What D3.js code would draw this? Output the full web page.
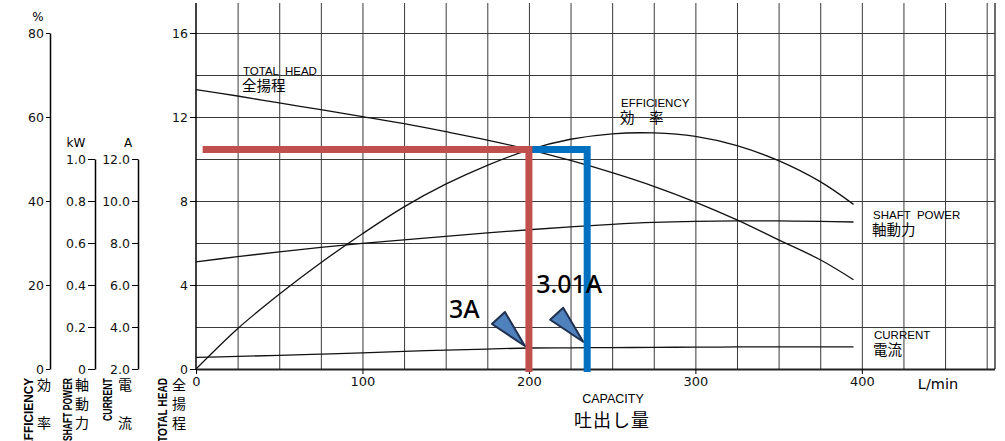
<!DOCTYPE html>
<html>
<head>
<meta charset="utf-8">
<script src="https://cdn.jsdelivr.net/npm/d3@7"></script>
<style>
body { margin: 0; background: #fff; }
svg { display: block; font-family: "DejaVu Sans", sans-serif; }
.cap { font-family: "Liberation Sans", Arial, sans-serif; font-size: 11.5px; white-space: pre; }
.jp { font-family: "Noto Sans CJK JP", sans-serif; }
.tick text { font-family: "DejaVu Sans", sans-serif; font-size: 12.5px; fill: #111; }
</style>
</head>
<body>
<div id="chart"></div>
<script>
// capacity points, L/min
var flowQ = [0, 25, 50, 75, 100, 125, 150, 175, 200, 225, 250, 275, 300, 325, 350, 375, 395];
// total head, m
var totalHead = [13.3, 13.0, 12.67, 12.35, 12.02, 11.68, 11.3, 10.9, 10.45, 9.93, 9.35, 8.7, 7.95, 7.1, 6.15, 5.2, 4.25];
// efficiency, %
var efficiency = [0, 9.6, 17.8, 25.3, 32.2, 38.6, 44.0, 48.5, 52.2, 54.7, 56.0, 56.2, 55.4, 53.2, 49.6, 44.6, 39.2];
// shaft power, kW
var shaftPower = [0.51, 0.535, 0.558, 0.579, 0.598, 0.615, 0.632, 0.648, 0.663, 0.677, 0.689, 0.698, 0.703, 0.705, 0.705, 0.703, 0.70];
// current, A
var current = [2.55, 2.6, 2.65, 2.71, 2.77, 2.84, 2.9, 2.95, 3.0, 3.01, 3.02, 3.03, 3.04, 3.05, 3.05, 3.05, 3.05];

var xTicks = [0, 100, 200, 300, 400];
var headTicks = [0, 4, 8, 12, 16];
var effTicks = [0, 20, 40, 60, 80];
var kwTicks = [0, 0.2, 0.4, 0.6, 0.8, 1.0];
var ampTicks = [2, 4, 6, 8, 10, 12];

// duty point markings
var dutyFlow = [200, 235];
var dutyHead = [10.45, 10.45];
var dutyAmps = [3.0, 3.01];
var dutyLabel = ["3A", "3.01A"];

var W = 1005, H = 441;
var svg = d3.select("#chart").append("svg").attr("width", W).attr("height", H);

var x = d3.scaleLinear().domain([0, 480]).range([196, 995]);
var yHead = d3.scaleLinear().domain([0, 16]).range([369, 33]);
var yEff = d3.scaleLinear().domain([0, 80]).range([369, 33]);
var yKw = d3.scaleLinear().domain([0, 1]).range([369, yHead(10)]);
var yAmp = d3.scaleLinear().domain([2, 12]).range([369, yHead(10)]);
var plotTop = 3;

// grid
var grid = svg.append("g").attr("stroke", "#3a3a3a").attr("stroke-width", 1);
d3.range(25, 480, 25).forEach(function(q) {
	grid.append("line").attr("x1", x(q) + 0.5).attr("x2", x(q) + 0.5)
		.attr("y1", plotTop).attr("y2", 369);
});
grid.append("line").attr("x1", x(480)).attr("x2", x(480)).attr("y1", plotTop).attr("y2", 369)
	.attr("stroke-width", 1.5);
d3.range(2, 17, 2).forEach(function(h) {
	grid.append("line").attr("x1", x(0)).attr("x2", x(480))
		.attr("y1", yHead(h) + 0.5).attr("y2", yHead(h) + 0.5);
});

// main axes
svg.append("line").attr("x1", x(0)).attr("x2", x(0)).attr("y1", plotTop).attr("y2", 370)
	.attr("stroke", "#000").attr("stroke-width", 1.5);
svg.append("line").attr("x1", x(0)).attr("x2", x(480)).attr("y1", 369.5).attr("y2", 369.5)
	.attr("stroke", "#222").attr("stroke-width", 2);

var headAxis = svg.append("g").attr("transform", "translate(" + x(0) + ",0)")
	.call(d3.axisLeft(yHead).tickValues(headTicks).tickSize(6).tickPadding(2).tickSizeOuter(0));
headAxis.select(".domain").remove();

var xAxis = svg.append("g").attr("transform", "translate(0,369)")
	.call(d3.axisBottom(x).tickValues(xTicks).tickSize(5).tickPadding(3));
xAxis.select(".domain").remove();
xAxis.selectAll("text").style("font-size", "13px");

// left scales
function sideAxis(scale, xPos, ticks, fmt, size) {
	var g = svg.append("g").attr("transform", "translate(" + xPos + ",0)")
		.call(d3.axisLeft(scale).tickValues(ticks).tickSize(size).tickPadding(2).tickSizeOuter(0).tickFormat(fmt));
	g.select(".domain").attr("stroke-width", 1.5);
	return g;
}
sideAxis(yEff, 50, effTicks, d3.format("d"), 4);
sideAxis(yKw, 95, kwTicks, function(d) { return d === 0 ? "0" : d3.format(".1f")(d); }, 7);
sideAxis(yAmp, 138, ampTicks, d3.format(".1f"), 6);

svg.append("text").attr("x", 38).attr("y", 21).attr("text-anchor", "middle").style("font-size", "12px").text("%");
svg.append("text").attr("x", 76).attr("y", 147).attr("text-anchor", "middle").style("font-size", "12px").text("kW");
svg.append("text").attr("x", 128).attr("y", 147).attr("text-anchor", "middle").style("font-size", "12px").text("A");

// vertical side labels
var sideLabels = [
	{ en: "EFFICIENCY", jp: "効　率", xe: 33, xj: 44, len: 70 },
	{ en: "SHAFT POWER", jp: "軸動力", xe: 72, xj: 82, len: 63 },
	{ en: "CURRENT", jp: "電　流", xe: 112, xj: 125, len: 43 },
	{ en: "TOTAL HEAD", jp: "全揚程", xe: 167, xj: 179, len: 64 }
];
sideLabels.forEach(function(s) {
	svg.append("text")
		.attr("transform", "translate(" + s.xe + ",378) rotate(-90)")
		.attr("text-anchor", "end")
		.attr("textLength", s.len).attr("lengthAdjust", "spacingAndGlyphs")
		.style("font-family", "'Liberation Sans', Arial, sans-serif")
		.style("font-size", "12px").style("font-weight", "bold")
		.text(s.en);
	s.jp.split("").forEach(function(c, i) {
		svg.append("text").attr("class", "jp")
			.attr("x", s.xj).attr("y", 390 + i * 19)
			.attr("text-anchor", "middle").style("font-size", "14px")
			.text(c);
	});
});

// curves
var line = d3.line().curve(d3.curveCatmullRom.alpha(0.5));
function curve(values, scale) {
	svg.append("path")
		.attr("d", line(flowQ.map(function(q, i) { return [x(q), scale(values[i])]; })))
		.attr("fill", "none").attr("stroke", "#111").attr("stroke-width", 1.3);
}
curve(totalHead, yHead);
curve(efficiency, yEff);
curve(shaftPower, yKw);
curve(current, yAmp);

// curve captions
function caption(en, jp, cx, cy) {
	svg.append("text").attr("class", "cap").attr("x", cx).attr("y", cy).text(en);
	svg.append("text").attr("class", "jp").attr("x", cx - 1).attr("y", cy + 16)
		.style("font-size", "14.5px").text(jp);
}
caption("TOTAL  HEAD", "全揚程", 243, 75);
caption("EFFICIENCY", "効　率", 621, 107);
caption("SHAFT  POWER", "軸動力", 873, 219);
caption("CURRENT", "電流", 874, 339);

svg.append("text").attr("class", "cap").attr("x", 613).attr("y", 403)
	.attr("text-anchor", "middle").style("font-size", "12.5px").text("CAPACITY");
svg.append("text").attr("class", "jp").attr("x", 612).attr("y", 427)
	.attr("text-anchor", "middle").style("font-size", "18px").attr("letter-spacing", 1).text("吐出し量");
svg.append("text").attr("x", 938).attr("y", 389).attr("text-anchor", "middle")
	.style("font-size", "14.5px").text("L/min");

// duty point lines (blue under red)
var dutyColors = ["#c0504d", "#0070c0"];
var startQ = [4, dutyFlow[0]];
[1, 0].forEach(function(i) {
	var yy = yHead(dutyHead[i]);
	svg.append("path")
		.attr("d", "M" + x(startQ[i]) + "," + yy + "H" + x(dutyFlow[i]) + "V372")
		.attr("fill", "none").attr("stroke", dutyColors[i]).attr("stroke-width", 7)
		.attr("stroke-linejoin", "miter");
});

// callouts
var lift = [2, 6];
var textOff = [[-76, -28], [-47, -49]];
dutyFlow.forEach(function(q, i) {
	var tx = x(q) - 4, ty = yAmp(dutyAmps[i]) - lift[i];
	svg.append("path")
		.attr("d", "M" + tx + "," + ty + "L" + (tx - 33) + "," + (ty - 22) + "L" + (tx - 20) + "," + (ty - 34) + "Z")
		.attr("fill", "#4f81bd").attr("stroke", "#1f3050").attr("stroke-width", 2)
		.attr("stroke-linejoin", "round");
	svg.append("text")
		.attr("x", tx + textOff[i][0]).attr("y", ty + textOff[i][1])
		.style("font-family", "'Noto Sans', sans-serif").style("font-size", "25px")
		.style("font-weight", 500).attr("fill", "#000")
		.text(dutyLabel[i]);
});
</script>
</body>
</html>
